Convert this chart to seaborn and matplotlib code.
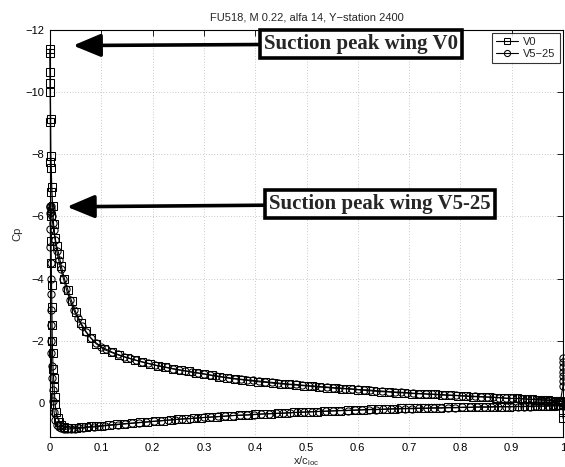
import matplotlib
matplotlib.use("Agg")
import matplotlib.pyplot as plt
import seaborn as sns
import pandas as pd

# ---------------- data ----------------
title = "FU518, M 0.22, alfa 14, Y\u2212station 2400"
series_names = ["V0", "V5\u221225"]

# V0 upper surface, trailing edge -> leading edge
v0_upper_x = [1.0, 0.995, 0.99, 0.985, 0.98, 0.975, 0.97, 0.96, 0.95, 0.94,
              0.93, 0.92, 0.91, 0.90, 0.885, 0.87, 0.855, 0.84, 0.825, 0.81,
              0.795, 0.78, 0.765, 0.75, 0.735, 0.72, 0.705, 0.69, 0.675, 0.66,
              0.645, 0.63, 0.615, 0.60, 0.585, 0.57, 0.555, 0.54, 0.525, 0.51,
              0.495, 0.48, 0.465, 0.45, 0.435, 0.42, 0.405, 0.39, 0.375, 0.36,
              0.345, 0.33, 0.315, 0.30, 0.285, 0.27, 0.255, 0.24, 0.225, 0.21,
              0.195, 0.18, 0.165, 0.15, 0.135, 0.12, 0.105, 0.09, 0.08, 0.07,
              0.06, 0.05, 0.042, 0.035, 0.028, 0.022, 0.017, 0.013, 0.010, 0.007,
              0.005, 0.0035, 0.0025, 0.0018, 0.0012, 0.0008, 0.0005, 0.0003]
v0_upper_cp = [-0.04, -0.05, -0.06, -0.06, -0.07, -0.07, -0.08, -0.09, -0.10, -0.11,
               -0.12, -0.13, -0.14, -0.14, -0.15, -0.17, -0.18, -0.19, -0.20, -0.21,
               -0.23, -0.24, -0.25, -0.27, -0.28, -0.29, -0.30, -0.32, -0.33, -0.35,
               -0.36, -0.38, -0.40, -0.42, -0.44, -0.46, -0.47, -0.49, -0.51, -0.53,
               -0.55, -0.57, -0.59, -0.61, -0.63, -0.66, -0.68, -0.71, -0.74, -0.77,
               -0.80, -0.84, -0.88, -0.93, -0.97, -1.01, -1.05, -1.09, -1.14, -1.19,
               -1.25, -1.31, -1.38, -1.45, -1.53, -1.62, -1.72, -1.90, -2.08, -2.30,
               -2.58, -2.93, -3.28, -3.63, -4.00, -4.40, -4.80, -5.05, -5.30, -5.75,
               -6.35, -6.95, -7.55, -7.95, -9.15, -10.0, -10.65, -11.4]

# V0 lower surface, leading edge -> trailing edge
v0_lower_x = [0.0002, 0.0004, 0.0006, 0.0009, 0.0012, 0.0016, 0.002, 0.0025, 0.003, 0.0035,
              0.004, 0.0045, 0.005, 0.006, 0.007, 0.008, 0.009, 0.010, 0.012, 0.015,
              0.018, 0.022, 0.027, 0.033, 0.04, 0.05, 0.06, 0.07, 0.08, 0.09,
              0.10, 0.115, 0.13, 0.145, 0.16, 0.175, 0.19, 0.205, 0.22, 0.235,
              0.25, 0.265, 0.28, 0.295, 0.31, 0.325, 0.34, 0.355, 0.37, 0.385,
              0.40, 0.415, 0.43, 0.445, 0.46, 0.475, 0.49, 0.505, 0.52, 0.535,
              0.55, 0.565, 0.58, 0.595, 0.61, 0.625, 0.64, 0.655, 0.67, 0.685,
              0.70, 0.715, 0.73, 0.745, 0.76, 0.775, 0.79, 0.805, 0.82, 0.835,
              0.85, 0.865, 0.88, 0.895, 0.91, 0.92, 0.93, 0.94, 0.95, 0.96,
              0.97, 0.975, 0.98, 0.985, 0.99, 0.995, 1.0, 1.0, 1.0]
v0_lower_cp = [-11.25, -10.3, -9.05, -7.75, -6.8, -6.0, -5.2, -4.5, -3.8, -3.1,
               -2.5, -2.0, -1.6, -1.1, -0.8, -0.5, -0.2, 0.05, 0.30, 0.50,
               0.62, 0.72, 0.78, 0.80, 0.81, 0.80, 0.79, 0.78, 0.76, 0.75,
               0.73, 0.71, 0.69, 0.67, 0.65, 0.63, 0.61, 0.59, 0.57, 0.55,
               0.53, 0.51, 0.50, 0.48, 0.46, 0.45, 0.43, 0.41, 0.40, 0.39,
               0.37, 0.36, 0.35, 0.34, 0.33, 0.31, 0.30, 0.29, 0.28, 0.27,
               0.26, 0.25, 0.24, 0.23, 0.22, 0.21, 0.21, 0.20, 0.19, 0.18,
               0.18, 0.17, 0.17, 0.16, 0.16, 0.15, 0.15, 0.14, 0.14, 0.13,
               0.13, 0.12, 0.12, 0.12, 0.11, 0.11, 0.11, 0.10, 0.10, 0.10,
               0.09, 0.09, 0.09, 0.08, 0.08, 0.08, 0.08, 0.30, 0.50]

# V5-25 trailing-edge points
v525_te_x = [1.0, 1.0, 1.0, 1.0, 1.0, 1.0, 1.0]
v525_te_cp = [-1.45, -1.30, -1.15, -1.00, -0.85, -0.70, -0.55]

# V5-25 upper surface, trailing edge -> leading edge
v525_upper_x = [0.995, 0.99, 0.985, 0.98, 0.975, 0.97, 0.965, 0.96, 0.955, 0.95,
                0.94, 0.93, 0.92, 0.91, 0.90, 0.888, 0.876, 0.864, 0.852, 0.84,
                0.828, 0.816, 0.804, 0.792, 0.78, 0.768, 0.756, 0.744, 0.732, 0.72,
                0.708, 0.696, 0.684, 0.672, 0.66, 0.648, 0.636, 0.624, 0.612, 0.60,
                0.588, 0.576, 0.564, 0.552, 0.54, 0.528, 0.516, 0.504, 0.492, 0.48,
                0.468, 0.456, 0.444, 0.432, 0.42, 0.408, 0.396, 0.384, 0.372, 0.36,
                0.348, 0.336, 0.324, 0.312, 0.30, 0.288, 0.276, 0.264, 0.252, 0.24,
                0.228, 0.216, 0.204, 0.192, 0.18, 0.168, 0.156, 0.144, 0.132, 0.12,
                0.11, 0.10, 0.09, 0.08, 0.07, 0.062, 0.054, 0.046, 0.039, 0.032,
                0.026, 0.021, 0.017, 0.013, 0.010, 0.007, 0.005, 0.0035, 0.0025, 0.0018,
                0.0012, 0.0008]
v525_upper_cp = [-0.06, -0.06, -0.07, -0.07, -0.08, -0.08, -0.09, -0.09, -0.10, -0.10,
                 -0.11, -0.12, -0.13, -0.14, -0.14, -0.15, -0.17, -0.18, -0.19, -0.20,
                 -0.21, -0.22, -0.23, -0.24, -0.25, -0.26, -0.27, -0.28, -0.29, -0.30,
                 -0.31, -0.33, -0.34, -0.35, -0.36, -0.38, -0.39, -0.41, -0.42, -0.43,
                 -0.45, -0.46, -0.48, -0.49, -0.51, -0.52, -0.54, -0.55, -0.57, -0.59,
                 -0.60, -0.62, -0.64, -0.66, -0.68, -0.70, -0.72, -0.74, -0.76, -0.78,
                 -0.81, -0.84, -0.87, -0.90, -0.93, -0.96, -0.99, -1.03, -1.06, -1.10,
                 -1.14, -1.18, -1.22, -1.27, -1.32, -1.37, -1.43, -1.49, -1.56, -1.64,
                 -1.72, -1.81, -1.93, -2.08, -2.28, -2.48, -2.72, -3.00, -3.30, -3.65,
                 -4.00, -4.30, -4.60, -4.90, -5.25, -5.55, -5.80, -6.00, -6.15, -6.25,
                 -6.32, -6.35]

# V5-25 lower surface, leading edge -> trailing edge
v525_lower_x = [0.0006, 0.0007, 0.0008, 0.0009, 0.001, 0.0012, 0.0014, 0.0016, 0.0018, 0.002,
                0.0025, 0.003, 0.004, 0.005, 0.006, 0.008, 0.010, 0.013, 0.017, 0.022,
                0.027, 0.033, 0.04, 0.048, 0.056, 0.065, 0.075, 0.085, 0.095, 0.107,
                0.12, 0.133, 0.146, 0.16, 0.174, 0.188, 0.202, 0.216, 0.23, 0.244,
                0.258, 0.272, 0.286, 0.30, 0.314, 0.328, 0.342, 0.356, 0.37, 0.384,
                0.398, 0.412, 0.426, 0.44, 0.454, 0.468, 0.482, 0.496, 0.51, 0.524,
                0.538, 0.552, 0.566, 0.58, 0.594, 0.608, 0.622, 0.636, 0.65, 0.664,
                0.678, 0.692, 0.706, 0.72, 0.734, 0.748, 0.762, 0.776, 0.79, 0.804,
                0.818, 0.832, 0.846, 0.86, 0.874, 0.888, 0.90, 0.912, 0.924, 0.936,
                0.948, 0.96, 0.97, 0.98, 0.99, 1.0]
v525_lower_cp = [-6.30, -6.10, -5.60, -5.00, -4.50, -4.00, -3.50, -3.00, -2.50, -2.00,
                 -1.60, -1.20, -0.80, -0.40, -0.05, 0.30, 0.55, 0.70, 0.77, 0.82,
                 0.84, 0.85, 0.84, 0.83, 0.82, 0.81, 0.79, 0.78, 0.76, 0.74,
                 0.72, 0.70, 0.68, 0.66, 0.64, 0.62, 0.60, 0.58, 0.56, 0.54,
                 0.52, 0.51, 0.49, 0.47, 0.46, 0.44, 0.43, 0.41, 0.40, 0.39,
                 0.38, 0.36, 0.35, 0.34, 0.33, 0.32, 0.31, 0.30, 0.29, 0.28,
                 0.27, 0.26, 0.25, 0.25, 0.24, 0.23, 0.22, 0.22, 0.21, 0.20,
                 0.20, 0.19, 0.19, 0.18, 0.18, 0.17, 0.17, 0.16, 0.16, 0.15,
                 0.15, 0.14, 0.14, 0.14, 0.13, 0.13, 0.13, 0.12, 0.12, 0.12,
                 0.11, 0.11, 0.11, 0.10, 0.10, 0.10]

x_ticks = [0, 0.1, 0.2, 0.3, 0.4, 0.5, 0.6, 0.7, 0.8, 0.9, 1]
x_ticklabels = ["0", "0.1", "0.2", "0.3", "0.4", "0.5", "0.6", "0.7", "0.8", "0.9", "1"]
y_ticks = [-12, -10, -8, -6, -4, -2, 0]
y_ticklabels = ["\u221212", "\u221210", "\u22128", "\u22126", "\u22124", "\u22122", "0"]

annot_texts = ["Suction peak wing V0", "Suction peak wing V5-25"]
annot_points = [(0.045, -11.5), (0.033, -6.31)]
annot_text_pos = [(0.606, -11.55), (0.643, -6.39)]

# ---------------- plotting ----------------
sns.set_theme(style="white")
plt.rcParams["font.family"] = ["Liberation Sans", "DejaVu Sans"]
plt.rcParams["axes.unicode_minus"] = False

df_v0 = pd.DataFrame({"x": v0_upper_x + v0_lower_x, "cp": v0_upper_cp + v0_lower_cp})
df_v525 = pd.DataFrame({"x": v525_te_x + v525_upper_x + v525_lower_x,
                        "cp": v525_te_cp + v525_upper_cp + v525_lower_cp})

fig = plt.figure(figsize=(5.65, 4.67), dpi=100)
ax = fig.add_axes([50 / 565, 1 - 437 / 467, 513 / 565, 407 / 467])

common = dict(sort=False, estimator=None, color="black", linewidth=0.8,
              markerfacecolor="none", markeredgecolor="black", markeredgewidth=0.75,
              markersize=5.2, ax=ax, clip_on=False)
sns.lineplot(data=df_v0, x="x", y="cp", marker="s", label=series_names[0], **common)
sns.lineplot(data=df_v525, x="x", y="cp", marker="o", label=series_names[1], **common)

ax.set_xlim(0, 1)
ax.set_ylim(1.1, -12)
ax.set_xticks(x_ticks)
ax.set_xticklabels(x_ticklabels)
ax.set_yticks(y_ticks)
ax.set_yticklabels(y_ticklabels)
ax.tick_params(direction="in", length=4, width=0.6, top=True, right=True,
               labelsize=8, colors="black", pad=4)
ax.grid(True, linestyle=(0, (1, 3)), linewidth=0.5, color="#999999")
for sp in ax.spines.values():
    sp.set_color("black")
    sp.set_linewidth(0.8)

ax.set_title(title, fontsize=8, pad=7)
ax.set_xlabel("x/c$_\\mathregular{loc}$", fontsize=8, labelpad=1)
ax.set_ylabel("Cp", fontsize=8, labelpad=2)

leg = ax.legend(loc="upper right", fontsize=8, frameon=True, fancybox=False,
                edgecolor="black", handlelength=2.0, borderpad=0.35,
                labelspacing=0.15, handletextpad=0.5, borderaxespad=0.3,
                markerscale=0.85)
leg.get_frame().set_linewidth(0.8)
leg.set_zorder(6)

for txt, pt, tp in zip(annot_texts, annot_points, annot_text_pos):
    ax.annotate(txt, xy=pt, xytext=tp, ha="center", va="center",
                fontsize=15, fontweight="bold", family="Liberation Serif",
                bbox=dict(boxstyle="square,pad=0.2", fc="white", ec="black", lw=2.6),
                arrowprops=dict(arrowstyle="-|>,head_length=1.2,head_width=0.5",
                                lw=2.6, color="black", mutation_scale=14,
                                shrinkA=0, shrinkB=0),
                zorder=5)

fig.savefig("out.png", dpi=100)
